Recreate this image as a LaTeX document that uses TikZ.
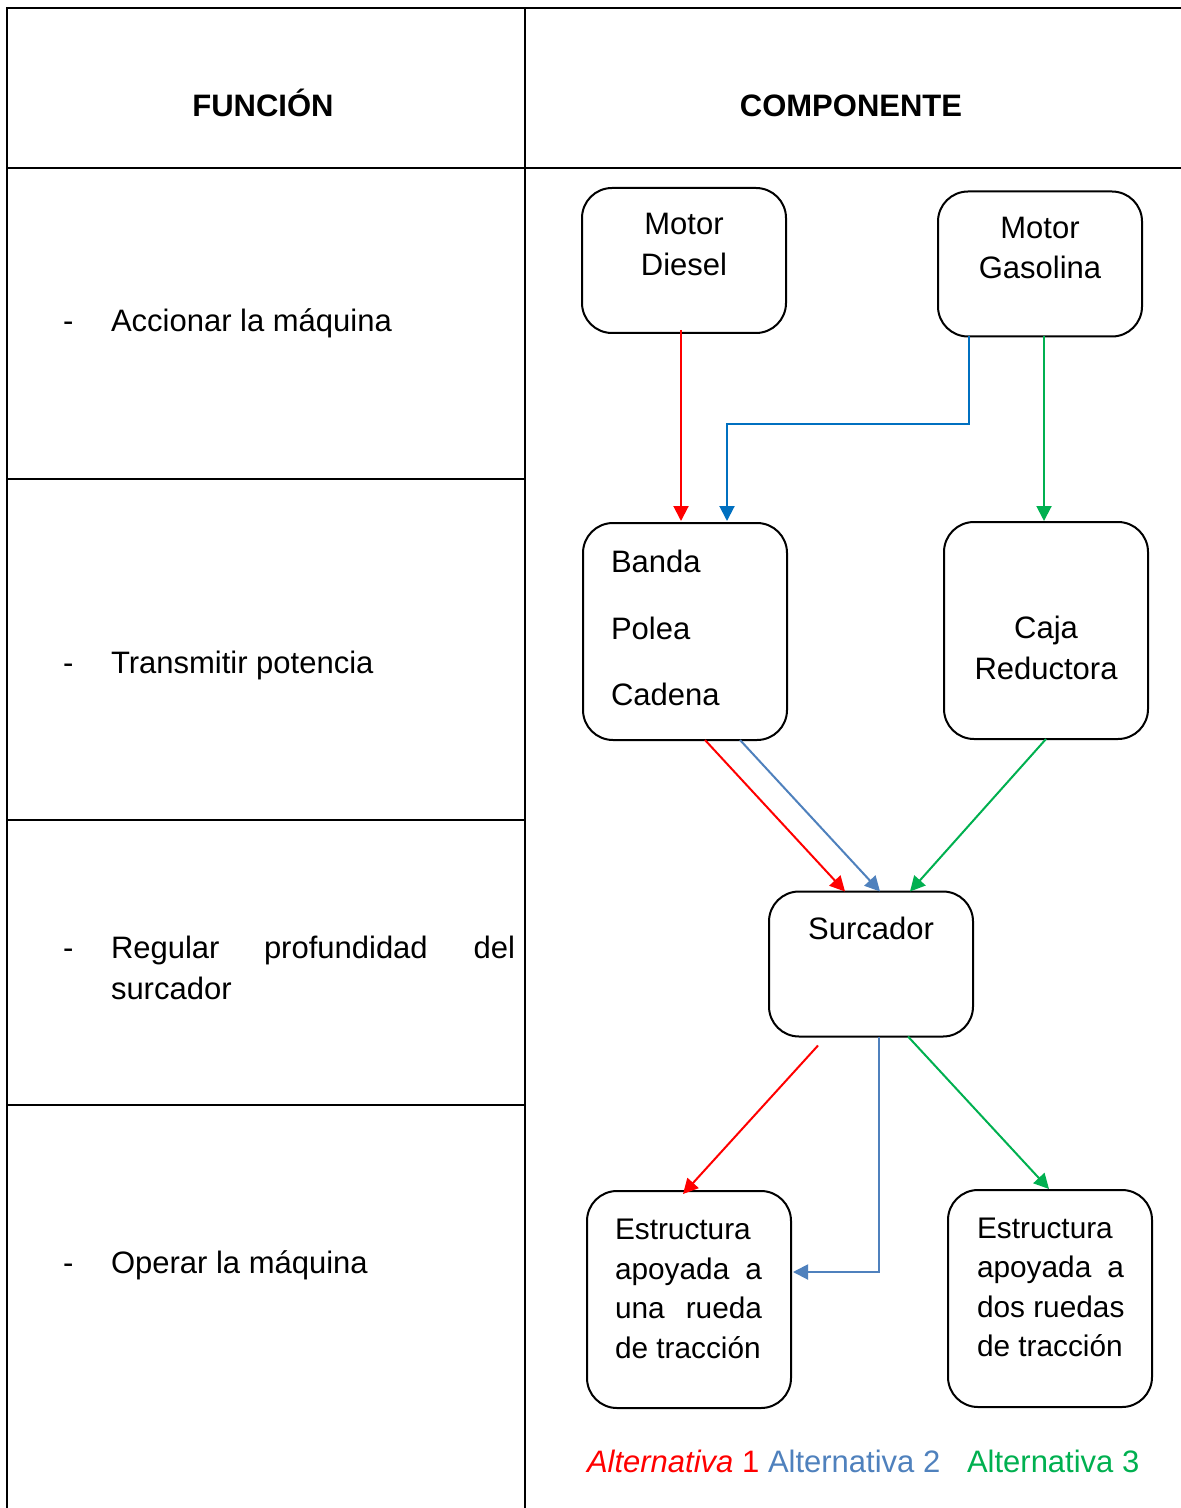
\documentclass[tikz,border=0pt]{standalone}
\usepackage{fontspec}
\setmainfont{Liberation Sans}
\usetikzlibrary{arrows.meta,calc}
\definecolor{cred}{RGB}{255,0,0}
\definecolor{cdblue}{RGB}{0,112,192}
\definecolor{clblue}{RGB}{79,129,189}
\definecolor{cgreen}{RGB}{0,176,80}
\begin{document}
\begin{tikzpicture}[x=0.5pt,y=-0.5pt,
  every node/.style={inner sep=0pt,outer sep=0pt,font=\fontsize{15.5}{18}\selectfont},
  box/.style={draw,line width=1pt,rounded corners=15pt,minimum width=102pt,minimum height=#1},
  box/.default=72.5pt,
  grid/.style={line width=1pt},
  conn/.style={line width=1pt,-{Triangle[length=7.5pt,width=7.5pt]}},
  lbl/.style={anchor=base west},
  lblc/.style={anchor=base},
  lble/.style={anchor=base east},
  small/.style={font=\fontsize{14.9}{18}\selectfont}]
\useasboundingbox (0,0) rectangle (1181,1508);
\fill[white] (0,0) rectangle (1181,1508);
% table
\draw[grid] (7,1508) -- (7,8) -- (1181,8);
\draw[grid] (525,8) -- (525,1508);
\draw[grid] (7,168) -- (1181,168);
\draw[grid] (7,479) -- (525,479);
\draw[grid] (7,820) -- (525,820);
\draw[grid] (7,1105) -- (525,1105);
% headers
\node[lblc,font=\fontsize{15.5}{18}\selectfont\bfseries] (hf) at (263,117) {FUNCIÓN};
\node[lblc,font=\fontsize{15.5}{18}\selectfont\bfseries] (hc) at (851,117) {COMPONENTE};
% functions
\node[lbl] (d1) at (63,332) {-};
\node[lbl] (f1) at (111,332) {Accionar la máquina};
\node[lbl] (d2) at (63,673) {-};
\node[lbl] (f2) at (111,673) {Transmitir potencia};
\node[lbl] (d3) at (63,958) {-};
\node[lbl] (f3a) at (111,958) {Regular};
\node[lbl] (f3b) at (264,958) {profundidad};
\node[lble] (f3c) at (515,958) {del};
\node[lbl] (f3d) at (111,999) {surcador};
\node[lbl] (d4) at (63,1273) {-};
\node[lbl] (f4) at (111,1273) {Operar la máquina};
% boxes
\node[box] (md) at (684,260.5) {};
\node[box] (mg) at (1040,264) {};
\node[box=108.5pt] (bpc) at (685,631.5) {};
\node[box=108.5pt] (caja) at (1046,630.5) {};
\node[box] (surc) at (871,964) {};
\node[box=108.5pt] (est1) at (689,1299.5) {};
\node[box=108.5pt] (est2) at (1050,1298.5) {};
% box texts
\node[lblc] (t1) at (684,235) {Motor};
\node[lblc] (t2) at (684,276) {Diesel};
\node[lblc] (t3) at (1040,239) {Motor};
\node[lblc] (t4) at (1040,279) {Gasolina};
\node[lbl] (t5) at (611,572) {Banda};
\node[lbl] (t6) at (611,639) {Polea};
\node[lbl] (t7) at (611,705) {Cadena};
\node[lblc] (t8) at (1046,638) {Caja};
\node[lblc] (t9) at (1046,679) {Reductora};
\node[lblc] (t10) at (871,939) {Surcador};
\node[lbl,small] (e1a) at (615,1239) {Estructura};
\node[lbl,small] (e1b) at (615,1279) {apoyada};
\node[lble,small] (e1c) at (762,1279) {a};
\node[lbl,small] (e1d) at (615,1318) {una};
\node[lble,small] (e1e) at (762,1318) {rueda};
\node[lbl,small] (e1f) at (615,1358) {de tracción};
\node[lbl,small] (e2a) at (977,1238) {Estructura};
\node[lbl,small] (e2b) at (977,1277) {apoyada};
\node[lble,small] (e2c) at (1124,1277) {a};
\node[lbl,small] (e2d) at (977,1317) {dos ruedas};
\node[lbl,small] (e2f) at (977,1356) {de tracción};
% connectors top
\draw[conn,cred] ($(md.south)+(-3,-3)$) -- ($(bpc.north)+(-4,-2)$);
\coordinate (b1) at (969,424);
\coordinate (b2) at (727,424);
\draw[conn,cdblue] (mg.south -| b1) -- (b1) -- (b2) -- ($(bpc.north -| b2)+(0,-2)$);
\draw[conn,cgreen] ($(mg.south)+(4,0)$) -- ($(caja.north)+(-2,-1)$);
% middle
\draw[conn,cred] ($(bpc.south)+(20,0)$) -- ($(surc.north)+(-26,0)$);
\draw[conn,clblue] ($(bpc.south)+(55,0)$) -- ($(surc.north)+(9,0)$);
\draw[conn,cgreen] (caja.south) -- ($(surc.north)+(39,0)$);
% bottom
\draw[conn,cred] ($(surc.south)+(-53,9)$) -- ($(est1.north)+(-6,3)$);
\coordinate (b3) at (879,1272);
\draw[conn,clblue] ($(surc.south)+(8,0)$) -- (b3) -- ($(est1.east |- b3)+(2,0)$);
\draw[conn,cgreen] ($(surc.south)+(37,0)$) -- ($(est2.north)+(-1,-1)$);
% legend
\node[lbl,text=cred] (l1) at (587,1472) {\itshape Alternativa\/\upshape\ 1};
\node[lbl,text=clblue] (l2) at (768,1472) {Alternativa 2};
\node[lbl,text=cgreen] (l3) at (967,1472) {Alternativa 3};
\end{tikzpicture}
\end{document}
